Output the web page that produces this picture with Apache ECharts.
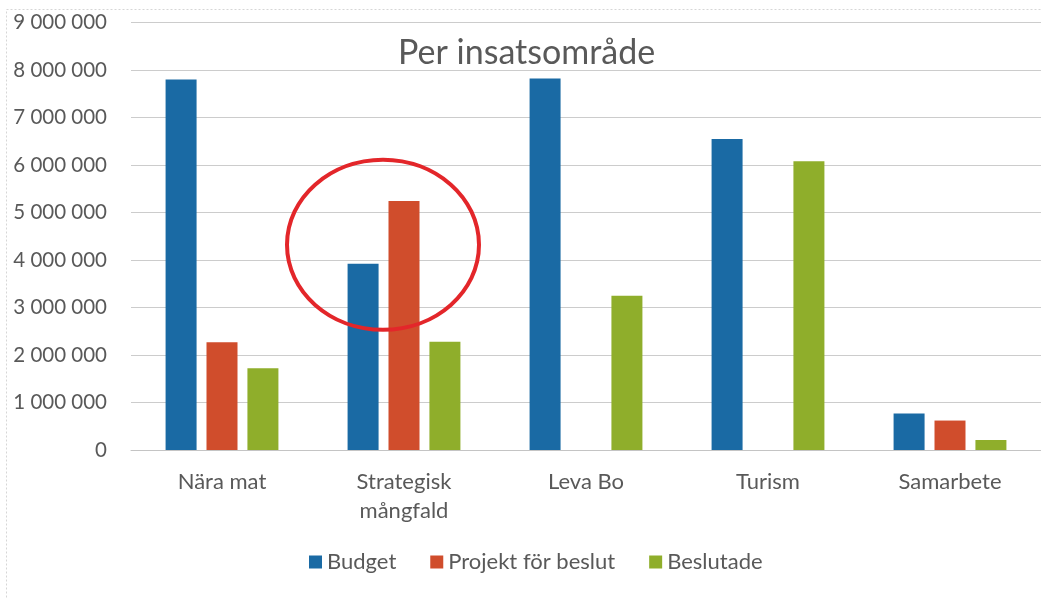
<!DOCTYPE html>
<html>
<head>
<meta charset="utf-8">
<script src="https://cdn.jsdelivr.net/npm/echarts@6/dist/echarts.min.js"></script>
<style>
  html, body { margin: 0; padding: 0; background: #fff; }
  #chart { width: 1041px; height: 598px; }
</style>
</head>
<body>
<div id="chart"></div>
<script>
// data
const categories = ["Nära mat", "Strategisk\nmångfald", "Leva Bo", "Turism", "Samarbete"];
const budget = [7800000, 3920000, 7820000, 6550000, 770000];
const projektForBeslut = [2270000, 5240000, 0, 0, 620000];
const beslutade = [1720000, 2280000, 3250000, 6080000, 210000];
const yTicks = [0, 1000000, 2000000, 3000000, 4000000, 5000000, 6000000, 7000000, 8000000, 9000000];
// red ring drawn round the second group: [category index, value]
const ringCenter = [1, 4320000];

const FONT = "Lato";
const textGray = "#595959";

function fmt(v) {
  return String(v).replace(/\B(?=(\d{3})+(?!\d))/g, " ");
}

const chart = echarts.init(document.getElementById("chart"));

const option = {
  backgroundColor: "#fff",
  textStyle: { fontFamily: FONT },
  title: {
    text: "Per insatsområde",
    left: 393,
    top: 31,
    textStyle: { fontFamily: FONT, fontSize: 34, fontWeight: "normal", color: textGray }
  },
  legend: {
    top: 546,
    left: 304,
    itemWidth: 13,
    itemHeight: 13,
    itemGap: 34,
    icon: "rect",
    textStyle: { fontFamily: FONT, fontSize: 22, color: textGray }
  },
  grid: {
    left: 131,
    right: -3,
    top: 22.5,
    bottom: 148
  },
  xAxis: {
    type: "category",
    data: categories,
    axisTick: { show: false },
    axisLine: { lineStyle: { color: "#c4c4c4", width: 1 } },
    axisLabel: {
      interval: 0,
      margin: 17,
      fontFamily: FONT,
      fontSize: 22,
      lineHeight: 29,
      color: textGray
    }
  },
  yAxis: {
    type: "value",
    min: yTicks[0],
    max: yTicks[yTicks.length - 1],
    interval: yTicks[1] - yTicks[0],
    axisLine: { show: false },
    axisTick: { show: false },
    splitLine: { lineStyle: { color: "#cccccc", width: 1 } },
    axisLabel: {
      margin: 24,
      fontFamily: FONT,
      fontSize: 20.5,
      color: textGray,
      formatter: fmt
    }
  },
  series: [
    { name: "Budget", type: "bar", data: budget, barWidth: 31, barGap: "32%",
      itemStyle: { color: "#1a6aa4" } },
    { name: "Projekt för beslut", type: "bar", data: projektForBeslut, barWidth: 31, barGap: "32%",
      itemStyle: { color: "#d04d2c" } },
    { name: "Beslutade", type: "bar", data: beslutade, barWidth: 31, barGap: "32%",
      itemStyle: { color: "#8fae2b" } }
  ]
};

chart.setOption(option);

// frame of the scanned page + the red ring
const c = chart.convertToPixel({ xAxisIndex: 0, yAxisIndex: 0 }, ringCenter);
chart.setOption({
  graphic: [
    {
      type: "rect",
      shape: { x: 6.5, y: 9.5, width: 1100, height: 1000 },
      style: { fill: null, stroke: "#d6d6d6", lineWidth: 1, lineDash: [2, 2] },
      silent: true
    },
    {
      type: "ellipse",
      shape: { cx: c[0] - 21, cy: c[1], rx: 96, ry: 85 },
      style: { fill: null, stroke: "#e3262a", lineWidth: 4 },
      z: 100,
      silent: true
    }
  ]
});
</script>
</body>
</html>
